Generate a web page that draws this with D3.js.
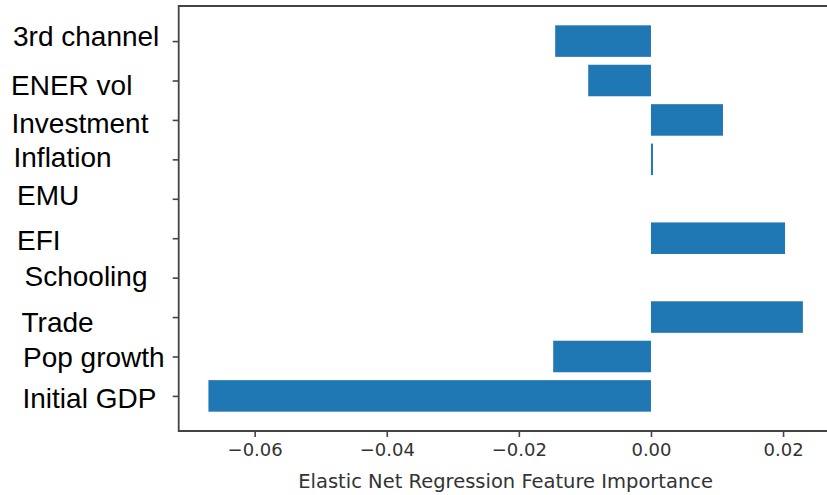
<!DOCTYPE html>
<html>
<head>
<meta charset="utf-8">
<script src="https://cdn.jsdelivr.net/npm/d3@7"></script>
<style>
  body { margin: 0; background: #fff; }
  svg { display: block; }
</style>
</head>
<body>
<div id="chart"></div>
<script>
// bottom to top, like matplotlib barh
const features = ["Initial GDP", "Pop growth", "Trade", "Schooling", "EFI",
                  "EMU", "Inflation", "Investment", "ENER vol", "3rd channel"];
const importance = [-0.0670, -0.0148, 0.0230, 0, 0.0203,
                    0, 0.0003, 0.0109, -0.0095, -0.0145];
const xTicks = [-0.06, -0.04, -0.02, 0.00, 0.02];
const xLabel = "Elastic Net Regression Feature Importance";

// the feature labels were pasted on by hand, so each sits a bit off its tick
const labelNudge = [[22.5, 12.4], [23, 10.8], [21.5, 15.2], [24.5, 8.6], [17, 12],
                    [17, 5.9], [13.5, 7.8], [11.5, 13.2], [11, 14.6], [13, 5]];

const WIDTH = 827;
const HEIGHT = 495;

const svg = d3.select("#chart")
    .append("svg")
    .attr("width", WIDTH)
    .attr("height", HEIGHT);

const x = d3.scaleLinear()
    .domain([-0.0715, 0.0275])
    .range([178.7, 832.6]);

const y = d3.scaleLinear()
    .domain([-0.89, features.length - 1 + 0.89])
    .range([431, 6]);

const barH = y(0) - y(0.8);

svg.append("g")
    .selectAll("rect")
    .data(importance)
    .join("rect")
    .attr("x", d => x(Math.min(0, d)))
    .attr("width", d => Math.abs(x(d) - x(0)))
    .attr("y", (d, i) => y(i + 0.4))
    .attr("height", barH)
    .attr("fill", "#1f77b4");

// x axis
const xAxis = svg.append("g")
    .attr("transform", `translate(0,${y.range()[0]})`)
    .call(d3.axisBottom(x)
        .tickValues(xTicks)
        .tickSize(6)
        .tickPadding(6)
        .tickFormat(d => d3.format(".2f")(d).replace("-", "\u2212")));
xAxis.select(".domain").remove();
xAxis.selectAll("line").attr("stroke", "#444").attr("stroke-width", 1.6);
xAxis.selectAll("text")
    .attr("font-family", "DejaVu Sans")
    .attr("font-size", 18)
    .attr("fill", "#333");

// y axis ticks only, labels drawn separately
const yAxis = svg.append("g")
    .attr("transform", `translate(${x.range()[0]},0)`)
    .call(d3.axisLeft(y)
        .tickValues(d3.range(features.length))
        .tickSize(6)
        .tickFormat(""));
yAxis.select(".domain").remove();
yAxis.selectAll("line").attr("stroke", "#444").attr("stroke-width", 1.6);

svg.append("g")
    .selectAll("text")
    .data(features)
    .join("text")
    .attr("x", (d, i) => labelNudge[i][0])
    .attr("y", (d, i) => y(i) + labelNudge[i][1])
    .attr("font-family", "Liberation Sans, Arial, sans-serif")
    .attr("font-size", 28)
    .attr("fill", "#000")
    .text(d => d);

// spines: left, top, bottom (right one runs off the picture)
const [x0, x1] = x.range();
const [yb, yt] = y.range();
svg.append("path")
    .attr("d", `M${x1},${yt}H${x0}V${yb}H${x1}`)
    .attr("fill", "none")
    .attr("stroke", "#444")
    .attr("stroke-width", 1.8);

svg.append("text")
    .attr("x", (x0 + x1) / 2)
    .attr("y", 488)
    .attr("text-anchor", "middle")
    .attr("font-family", "DejaVu Sans")
    .attr("font-size", 19.5)
    .attr("fill", "#333")
    .text(xLabel);
</script>
</body>
</html>
